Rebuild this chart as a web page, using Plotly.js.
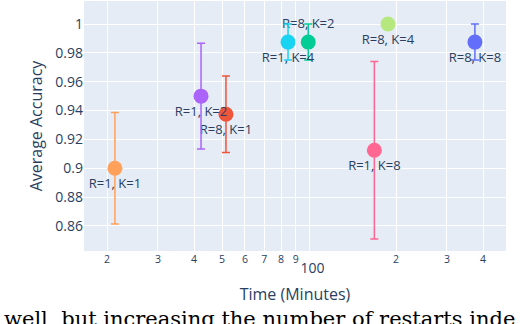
<!DOCTYPE html>
<html>
<head>
<meta charset="utf-8">
<script src="https://cdn.plot.ly/plotly-3.0.1.min.js"></script>
<style>
  body { margin: 0; background: #fff; }
  #chart { width: 532px; height: 324px; }
</style>
</head>
<body>
<div id="chart"></div>
<script>
// runs: time (minutes) vs average accuracy
var labels = ['R=8, K=8', 'R=8, K=1', 'R=8, K=2', 'R=1, K=2', 'R=1, K=1', 'R=1, K=4', 'R=1, K=8', 'R=8, K=4'];
var times = [375, 51.6, 99.4, 42.3, 21.3, 84.6, 168.3, 187.6];
var accuracy = [0.9875, 0.9375, 0.9875, 0.95, 0.9, 0.9875, 0.9125, 1.0];
var errors = [0.0125, 0.0265, 0.0125, 0.0367, 0.0386, 0.0125, 0.0615, 0];
var labelPos = ['bottom center', 'bottom center', 'top center', 'bottom center',
                'bottom center', 'bottom center', 'bottom center', 'bottom center'];
var colors = ['#636efa', '#EF553B', '#00cc96', '#ab63fa', '#FFA15A', '#19d3f3', '#FF6692', '#B6E880'];

// text of the page that the crop cuts through
var captionText = 'well, but increasing the number of restarts inde';

var traces = [];
for (let i = 0; i < labels.length; i++) {
  traces.push({
    x: [times[i]],
    y: [accuracy[i]],
    text: [labels[i]],
    mode: 'markers+text',
    textposition: labelPos[i],
    textfont: { size: 13, color: '#2a3f5f' },
    marker: { size: 15, color: colors[i] },
    error_y: { type: 'data', array: [errors[i]], visible: errors[i] > 0, color: colors[i], thickness: 1.5, width: 4 },
    name: labels[i]
  });
}

var layout = {
  width: 532,
  height: 324,
  margin: { l: 84, r: 26, t: 1, b: 73 },
  showlegend: false,
  font: { family: 'Open Sans, sans-serif', color: '#2a3f5f' },
  paper_bgcolor: '#ffffff',
  plot_bgcolor: '#E5ECF6',
  xaxis: {
    type: 'log',
    range: [1.2214, 2.6816],
    dtick: 'D1',
    gridcolor: '#ffffff',
    tickfont: { size: 14 },
    zeroline: false,
    title: { text: 'Time (Minutes)', font: { size: 16 }, standoff: 12 }
  },
  yaxis: {
    range: [0.8426, 1.016],
    dtick: 0.02,
    gridcolor: '#ffffff',
    tickfont: { size: 14 },
    zeroline: false,
    title: { text: 'Average Accuracy', font: { size: 16 } }
  },
  annotations: [{
    text: captionText,
    xref: 'paper', yref: 'paper',
    x: -0.195, y: -0.215,
    xanchor: 'left', yanchor: 'top',
    showarrow: false,
    font: { family: 'DejaVu Serif, serif', size: 21, color: '#000000' }
  }]
};

Plotly.newPlot('chart', traces, layout, { displayModeBar: false, staticPlot: true });
</script>
</body>
</html>
